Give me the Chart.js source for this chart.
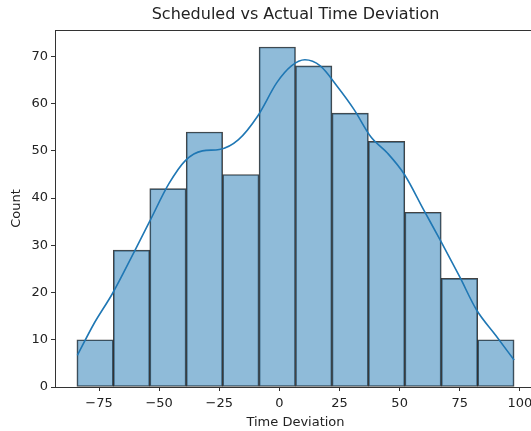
<!DOCTYPE html>
<html>
<head>
<meta charset="utf-8">
<script src="https://cdn.jsdelivr.net/npm/chart.js@4/dist/chart.umd.min.js"></script>
<style>
  html, body { margin: 0; padding: 0; background: #fff; overflow: hidden; }
  #wrap { position: relative; width: 546px; height: 431px; }
</style>
</head>
<body>
<div id="wrap"><canvas id="chart"></canvas></div>
<script>
// histogram bin edges and counts
const binEdges = [-84.2, -69.05, -53.9, -38.75, -23.6, -8.45, 6.7, 21.85, 37.0, 52.15, 67.3, 82.45, 97.6];
const counts = [10, 29, 42, 54, 45, 72, 68, 58, 52, 37, 23, 10];

// kde curve (scaled to counts)
const kdeX = [-84, -77, -69.4, -60, -54, -46, -39, -32, -25, -17, -9, -1, 5, 10.6, 17, 24, 31, 38, 45, 52, 60, 67, 75, 82, 90, 97.6];
const kdeY = [6.7, 13.5, 19.8, 29, 35, 43, 48, 50, 50.3, 52.4, 57.4, 64.5, 68, 69.3, 68, 63.7, 58.8, 53, 49.5, 45, 37.5, 31, 23.3, 16.3, 10.9, 5.7];

const xTicks = [-75, -50, -25, 0, 25, 50, 75, 100];
const yTicks = [0, 10, 20, 30, 40, 50, 60, 70];

const titleText = 'Scheduled vs Actual Time Deviation';

const barData = counts.map((c, i) => ({ x: (binEdges[i] + binEdges[i + 1]) / 2, y: c }));
const kdeData = kdeX.map((x, i) => ({ x: x, y: kdeY[i] }));

// top/right spines + title centred over the axes (like matplotlib)
const frame = {
  id: 'frame',
  afterDatasetsDraw(chart) {
    const a = chart.chartArea, ctx = chart.ctx;
    ctx.save();
    ctx.strokeStyle = '#333';
    ctx.lineWidth = 1;
    ctx.strokeRect(Math.round(a.left) + 0.5, Math.round(a.top) + 0.5, Math.round(a.right - a.left), Math.round(a.bottom - a.top));
    ctx.fillStyle = '#222';
    ctx.font = '16px "DejaVu Sans"';
    ctx.textAlign = 'center';
    ctx.textBaseline = 'middle';
    ctx.fillText(titleText, (a.left + a.right) / 2, 15);
    ctx.restore();
  }
};

const font = { family: 'DejaVu Sans', size: 13 };

new Chart(document.getElementById('chart'), {
  data: {
    datasets: [{
      type: 'line',
      label: 'KDE',
      data: kdeData,
      borderColor: '#1f77b4',
      borderWidth: 1.6,
      pointRadius: 0,
      cubicInterpolationMode: 'monotone',
      fill: false
    }, {
      type: 'bar',
      label: 'Count',
      data: barData,
      backgroundColor: 'rgba(31, 119, 180, 0.5)',
      borderColor: 'rgba(20, 20, 20, 0.8)',
      borderWidth: 1,
      borderSkipped: false,
      barPercentage: 1,
      categoryPercentage: 1
    }]
  },
  plugins: [frame],
  options: {
    responsive: true,
    maintainAspectRatio: false,
    animation: false,
    layout: { padding: { left: 0, right: 10, top: 30, bottom: 0 } },
    plugins: {
      legend: { display: false },
      tooltip: { enabled: false },
      title: { display: false }
    },
    scales: {
      x: {
        type: 'linear',
        offset: false,
        min: -93.3,
        max: 106.7,
        afterBuildTicks: (s) => { s.ticks = xTicks.map(v => ({ value: v })); },
        afterFit: (s) => { s.height = 44; },
        grid: { drawOnChartArea: false, drawTicks: true, tickLength: 4, tickColor: '#333', offset: false },
        border: { color: '#333', width: 1 },
        ticks: {
          color: '#222', font: font, padding: 5, maxRotation: 0,
          callback: (v) => v < 0 ? '\u2212' + Math.abs(v) : String(v)
        },
        title: {
          display: true,
          text: 'Time Deviation',
          color: '#222',
          font: font,
          padding: { top: 1, bottom: 1 }
        }
      },
      y: {
        min: 0,
        max: 75.6,
        afterBuildTicks: (s) => { s.ticks = yTicks.map(v => ({ value: v })); },
        afterFit: (s) => { s.width = 55; },
        grid: { drawOnChartArea: false, drawTicks: true, tickLength: 4, tickColor: '#333' },
        border: { color: '#333', width: 1 },
        ticks: { color: '#222', font: font, padding: 3 },
        title: {
          display: true,
          text: 'Count',
          color: '#222',
          font: font,
          padding: { top: 9, bottom: 0 }
        }
      }
    }
  }
});
</script>
</body>
</html>
